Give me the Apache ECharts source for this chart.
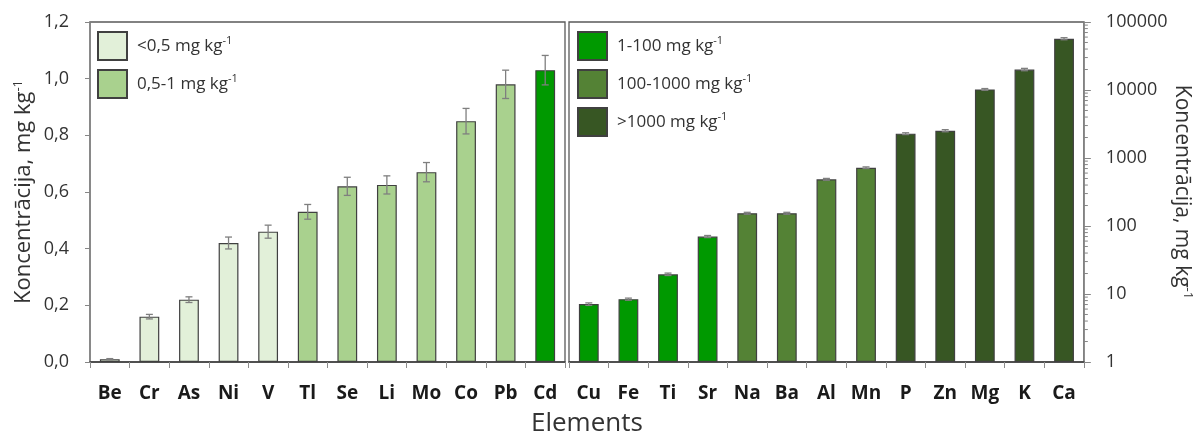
<!DOCTYPE html>
<html>
<head>
<meta charset="utf-8">
<script src="https://cdn.jsdelivr.net/npm/echarts@6/dist/echarts.min.js"></script>
<style>
  html, body { margin: 0; padding: 0; background: #fff; }
  #chart { width: 1195px; height: 435px; }
</style>
</head>
<body>
<div id="chart"></div>
<script>
// Elements below ~1 mg/kg (linear scale panel)
const leftCategories = ['Be', 'Cr', 'As', 'Ni', 'V', 'Tl', 'Se', 'Li', 'Mo', 'Co', 'Pb', 'Cd'];
const leftValues = [0.01, 0.16, 0.22, 0.42, 0.46, 0.53, 0.62, 0.625, 0.67, 0.85, 0.98, 1.03];
const leftErrors = [0.002, 0.008, 0.01, 0.021, 0.023, 0.026, 0.032, 0.032, 0.034, 0.045, 0.05, 0.052];
const leftGroups = [0, 0, 0, 0, 0, 1, 1, 1, 1, 1, 1, 2];

// Elements above 1 mg/kg (logarithmic scale panel)
const rightCategories = ['Cu', 'Fe', 'Ti', 'Sr', 'Na', 'Ba', 'Al', 'Mn', 'P', 'Zn', 'Mg', 'K', 'Ca'];
const rightValues = [7.1, 8.4, 19.5, 70, 154, 154, 486, 720, 2280, 2520, 10200, 20000, 56800];
const rightErrors = [0.3, 0.3, 0.8, 2.5, 5, 5, 15, 20, 70, 90, 300, 800, 2000];
const rightGroups = [2, 2, 2, 2, 3, 3, 3, 3, 4, 4, 4, 4, 4];

// Concentration classes (legend entries)
const groupNames = ['<0,5 mg kg', '0,5-1 mg kg', '1-100 mg kg', '100-1000 mg kg', '>1000 mg kg'];
const groupColors = ['#e2f0d9', '#a9d18e', '#009900', '#548235', '#375623'];

// Minor tick values on the log axis
const logMinorTicks = [];
[1, 10, 100, 1000, 10000].forEach(d => { for (let k = 2; k <= 9; k++) logMinorTicks.push(k * d); });

const FONT = '"Open Sans", "DejaVu Sans", sans-serif';
const TEXT = '#333333';
const chart = echarts.init(document.getElementById('chart'), null, { renderer: 'canvas' });

function barSeries(groupIdx, values, groups, axisIdx) {
  return {
    name: groupNames[groupIdx],
    type: 'bar',
    xAxisIndex: axisIdx,
    yAxisIndex: axisIdx,
    barWidth: '50%',
    barGap: '-100%',
    data: values.map((v, i) => groups[i] === groupIdx ? v : '-'),
    itemStyle: { color: groupColors[groupIdx], borderColor: '#404040', borderWidth: 1.2 },
    emphasis: { disabled: true },
    z: 2
  };
}

function errorRender(params, api) {
  const x = api.value(0);
  const pLo = api.coord([x, api.value(1)]);
  const pHi = api.coord([x, api.value(2)]);
  const hw = 3.5;
  const style = { stroke: '#7f7f7f', lineWidth: 1.3 };
  return {
    type: 'group',
    children: [
      { type: 'line', shape: { x1: pLo[0], y1: pLo[1], x2: pHi[0], y2: pHi[1] }, style },
      { type: 'line', shape: { x1: pHi[0] - hw, y1: pHi[1], x2: pHi[0] + hw, y2: pHi[1] }, style },
      { type: 'line', shape: { x1: pLo[0] - hw, y1: pLo[1], x2: pLo[0] + hw, y2: pLo[1] }, style }
    ]
  };
}

function errorSeries(values, errors, axisIdx) {
  return {
    type: 'custom',
    xAxisIndex: axisIdx,
    yAxisIndex: axisIdx,
    renderItem: errorRender,
    encode: { x: 0, y: [1, 2] },
    data: values.map((v, i) => [i, v - errors[i], v + errors[i]]),
    silent: true,
    z: 5
  };
}

const legendCommon = {
  orient: 'vertical',
  icon: 'rect',
  padding: 0,
  itemWidth: 29,
  itemHeight: 28,
  itemGap: 8,
  selectedMode: false,
  formatter: n => '{t|' + n + '}{s|-1}',
  textStyle: {
    rich: {
      t: { fontFamily: FONT, fontSize: 17, color: TEXT, padding: [0, 0, 0, 5] },
      s: { fontFamily: FONT, fontSize: 11, color: TEXT, verticalAlign: 'top', padding: [0, 0, 10, 0] }
    }
  }
};

function yNameStyle(size) {
  return {
    rich: {
      t: { fontFamily: FONT, fontSize: size, color: TEXT },
      s: { fontFamily: FONT, fontSize: Math.round(size * 0.6), color: TEXT, verticalAlign: 'top', padding: [0, 0, 11, 0] }
    }
  };
}
const yName = '{t|Koncentrācija, mg kg}{s|-1}';

const xAxisCommon = {
  type: 'category',
  boundaryGap: true,
  axisLine: { show: true, lineStyle: { color: '#404040', width: 1.5 } },
  axisTick: { show: true, alignWithLabel: false, length: 6, lineStyle: { color: '#8c8c8c' } },
  axisLabel: { fontFamily: FONT, fontSize: 19, fontWeight: 'bold', color: '#1a1a1a', margin: 22, interval: 0 },
  splitLine: { show: false }
};

const option = {
  animation: false,
  backgroundColor: '#ffffff',
  grid: [
    { left: 90, top: 22, width: 475, height: 340, show: true, borderColor: '#595959', borderWidth: 1.3, containLabel: false },
    { left: 569, top: 22, width: 519, height: 340, show: true, borderColor: '#595959', borderWidth: 1.3, containLabel: false }
  ],
  xAxis: [
    Object.assign({ gridIndex: 0, data: leftCategories }, xAxisCommon),
    Object.assign({ gridIndex: 1, data: rightCategories }, xAxisCommon)
  ],
  yAxis: [
    {
      gridIndex: 0,
      type: 'value',
      min: 0, max: 1.2, interval: 0.2,
      axisLine: { show: true, lineStyle: { color: '#868686', width: 1.5 } },
      axisTick: { show: true, length: 5, lineStyle: { color: '#868686' } },
      axisLabel: { fontFamily: FONT, fontSize: 18, color: TEXT, margin: 21, formatter: v => v.toFixed(1).replace('.', ',') },
      splitLine: { show: false },
      name: yName,
      nameLocation: 'middle',
      nameRotate: 90,
      nameGap: 54,
      nameTextStyle: yNameStyle(22)
    },
    {
      gridIndex: 1,
      type: 'log',
      logBase: 10,
      min: 1, max: 100000,
      position: 'right',
      axisLine: { show: true, lineStyle: { color: '#868686', width: 1.5 } },
      axisTick: { show: true, length: 7, lineStyle: { color: '#868686' } },
      axisLabel: { fontFamily: FONT, fontSize: 18, color: TEXT, margin: 22, formatter: v => String(Math.round(v)) },
      splitLine: { show: false },
      name: yName,
      nameLocation: 'middle',
      nameRotate: -90,
      nameGap: 78,
      nameTextStyle: yNameStyle(21)
    }
  ],
  legend: [
    Object.assign({ left: 97, top: 31, data: groupNames.slice(0, 2) }, legendCommon),
    Object.assign({ left: 577, top: 31, data: groupNames.slice(2) }, legendCommon)
  ],
  graphic: [
    {
      type: 'text',
      left: 531,
      top: 411,
      style: { text: 'Elements', fontFamily: FONT, fontSize: 26, fill: TEXT }
    }
  ],
  series: [
    barSeries(0, leftValues, leftGroups, 0),
    barSeries(1, leftValues, leftGroups, 0),
    barSeries(2, leftValues, leftGroups, 0),
    barSeries(2, rightValues, rightGroups, 1),
    barSeries(3, rightValues, rightGroups, 1),
    barSeries(4, rightValues, rightGroups, 1),
    errorSeries(leftValues, leftErrors, 0),
    errorSeries(rightValues, rightErrors, 1),
    {
      // small ticks for the 2..9 steps of each decade
      type: 'custom',
      xAxisIndex: 1,
      yAxisIndex: 1,
      silent: true,
      clip: false,
      encode: { x: 0, y: 1 },
      data: logMinorTicks.map(v => [0, v]),
      renderItem: (params, api) => {
        const p = api.coord([0, api.value(1)]);
        const x0 = params.coordSys.x + params.coordSys.width;
        return { type: 'line', shape: { x1: x0, y1: p[1], x2: x0 + 4, y2: p[1] }, style: { stroke: '#868686', lineWidth: 1 } };
      }
    }
  ]
};

chart.setOption(option);
</script>
</body>
</html>
